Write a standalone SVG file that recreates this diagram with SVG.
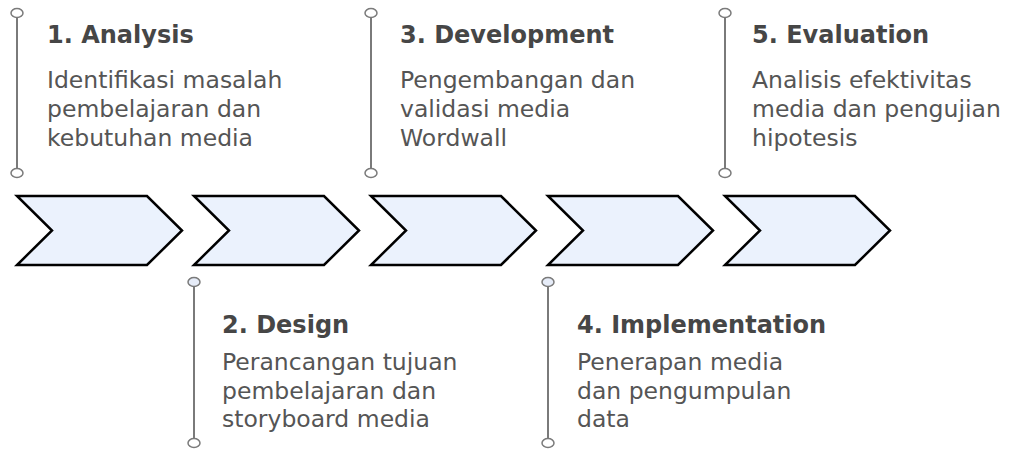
<svg xmlns="http://www.w3.org/2000/svg" width="1011" height="455" viewBox="0 0 1011 455">
  <defs>
    <style>
      .chev { fill: #ebf2fd; stroke: #000; stroke-width: 2.5; stroke-linejoin: miter; }
      .stem { stroke: #7a7a7a; stroke-width: 2; fill: none; }
      .dot { fill: #fff; stroke: #7a7a7a; stroke-width: 1.5; }
      .dot.tint { fill: #e6ecf8; }
      .title { font-family: "DejaVu Sans", Verdana, sans-serif; font-weight: bold; font-size: 24px; fill: #464646; }
      .body { font-family: "DejaVu Sans", Verdana, sans-serif; font-size: 23.5px; fill: #555; }
    </style>
    <!-- one chevron step, drawn at origin -->
    <path id="step" d="M0,196 H130 L165,230.5 L130,265 H0 L35,230.5 Z"/>
  </defs>
  <rect width="1011" height="455" fill="#fff"/>

  <!-- timeline connectors: stems with end dots -->
  <g id="connectors">
    <line class="stem" x1="17" y1="13" x2="17" y2="173"/>
    <ellipse class="dot" cx="17" cy="13" rx="6" ry="4.5"/>
    <ellipse class="dot" cx="17" cy="173" rx="6" ry="4.5"/>

    <line class="stem" x1="194" y1="282" x2="194" y2="443"/>
    <ellipse class="dot tint" cx="194" cy="282" rx="6" ry="4.5"/>
    <ellipse class="dot" cx="194" cy="443" rx="6" ry="4.5"/>

    <line class="stem" x1="371" y1="13" x2="371" y2="173"/>
    <ellipse class="dot" cx="371" cy="13" rx="6" ry="4.5"/>
    <ellipse class="dot" cx="371" cy="173" rx="6" ry="4.5"/>

    <line class="stem" x1="548" y1="282" x2="548" y2="443"/>
    <ellipse class="dot tint" cx="548" cy="282" rx="6" ry="4.5"/>
    <ellipse class="dot" cx="548" cy="443" rx="6" ry="4.5"/>

    <line class="stem" x1="725" y1="13" x2="725" y2="173"/>
    <ellipse class="dot" cx="725" cy="13" rx="6" ry="4.5"/>
    <ellipse class="dot" cx="725" cy="173" rx="6" ry="4.5"/>
  </g>

  <!-- chevron steps -->
  <g id="step1"><use href="#step" class="chev" x="17"/></g>
  <g id="step2"><use href="#step" class="chev" x="194"/></g>
  <g id="step3"><use href="#step" class="chev" x="371"/></g>
  <g id="step4"><use href="#step" class="chev" x="548"/></g>
  <g id="step5"><use href="#step" class="chev" x="725"/></g>

  <!-- phase labels -->
  <g id="analysis">
    <text class="title" x="47" y="43">1. Analysis</text>
    <text class="body" x="47" y="88">Identifikasi masalah</text>
    <text class="body" x="47" y="117">pembelajaran dan</text>
    <text class="body" x="47" y="146">kebutuhan media</text>
  </g>
  <g id="design">
    <text class="title" x="222" y="333">2. Design</text>
    <text class="body" x="222" y="370">Perancangan tujuan</text>
    <text class="body" x="222" y="399">pembelajaran dan</text>
    <text class="body" x="222" y="427">storyboard media</text>
  </g>
  <g id="development">
    <text class="title" x="400" y="43">3. Development</text>
    <text class="body" x="400" y="88">Pengembangan dan</text>
    <text class="body" x="400" y="117">validasi media</text>
    <text class="body" x="400" y="146">Wordwall</text>
  </g>
  <g id="implementation">
    <text class="title" x="577" y="333">4. Implementation</text>
    <text class="body" x="577" y="370">Penerapan media</text>
    <text class="body" x="577" y="399">dan pengumpulan</text>
    <text class="body" x="577" y="427">data</text>
  </g>
  <g id="evaluation">
    <text class="title" x="752" y="43">5. Evaluation</text>
    <text class="body" x="752" y="88">Analisis efektivitas</text>
    <text class="body" x="752" y="117">media dan pengujian</text>
    <text class="body" x="752" y="146">hipotesis</text>
  </g>
</svg>
